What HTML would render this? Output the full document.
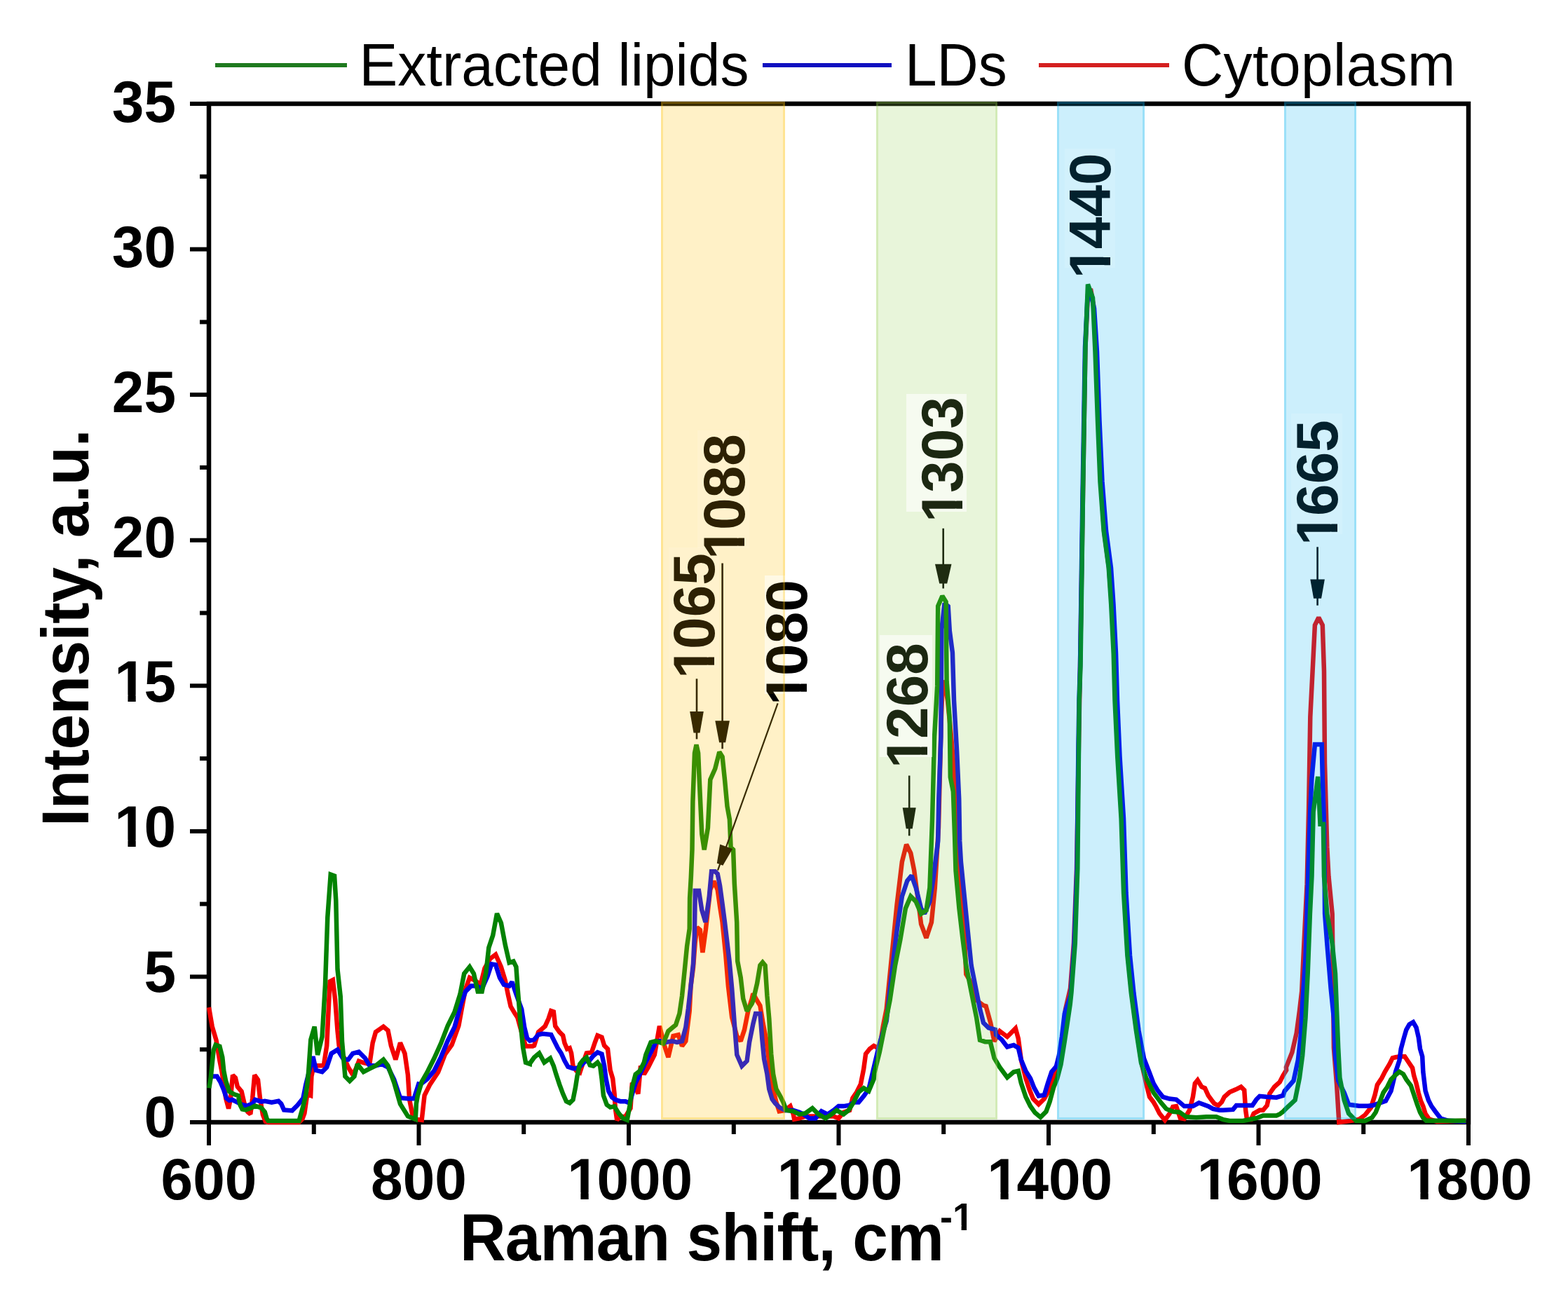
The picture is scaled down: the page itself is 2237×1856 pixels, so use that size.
<!DOCTYPE html><html><head><meta charset="utf-8"><title>Raman spectra: extracted lipids, LDs, cytoplasm</title><style>html,body{margin:0;padding:0;background:#fff;}svg{display:block;}text{font-family:"Liberation Sans",Arial,sans-serif;}</style></head><body>
<svg width="2237" height="1856" viewBox="0 0 2237 1856">
<defs><clipPath id="nf" clipPathUnits="userSpaceOnUse"><path clip-rule="evenodd" d="M-60,-200H1000V200H-60Z M7.17,-9.57H22.64V3H7.17Z M33.89,-9.57H48.02V3H33.89Z"/></clipPath><clipPath id="nf54" clipPathUnits="userSpaceOnUse"><path clip-rule="evenodd" d="M-60,-200H1000V200H-60Z M19.88,-6.71H30.59V3H19.88Z M38.00,-6.71H47.71V3H38.00Z"/></clipPath></defs>
<rect width="2237" height="1856" fill="#fff"/>
<g stroke="#000" stroke-width="6" fill="none">
<rect x="298.0" y="148.0" width="1797.0" height="1453.0" stroke-width="6.5"/>
<line x1="271" y1="1601.0" x2="298.0" y2="1601.0"/>
<line x1="271" y1="1393.4" x2="298.0" y2="1393.4"/>
<line x1="271" y1="1185.9" x2="298.0" y2="1185.9"/>
<line x1="271" y1="978.3" x2="298.0" y2="978.3"/>
<line x1="271" y1="770.7" x2="298.0" y2="770.7"/>
<line x1="271" y1="563.1" x2="298.0" y2="563.1"/>
<line x1="271" y1="355.6" x2="298.0" y2="355.6"/>
<line x1="271" y1="148.0" x2="298.0" y2="148.0"/>
<line x1="285" y1="1497.2" x2="298.0" y2="1497.2"/>
<line x1="285" y1="1289.6" x2="298.0" y2="1289.6"/>
<line x1="285" y1="1082.1" x2="298.0" y2="1082.1"/>
<line x1="285" y1="874.5" x2="298.0" y2="874.5"/>
<line x1="285" y1="666.9" x2="298.0" y2="666.9"/>
<line x1="285" y1="459.4" x2="298.0" y2="459.4"/>
<line x1="285" y1="251.8" x2="298.0" y2="251.8"/>
<line x1="298.0" y1="1601.0" x2="298.0" y2="1634"/>
<line x1="597.5" y1="1601.0" x2="597.5" y2="1634"/>
<line x1="897.0" y1="1601.0" x2="897.0" y2="1634"/>
<line x1="1196.5" y1="1601.0" x2="1196.5" y2="1634"/>
<line x1="1496.0" y1="1601.0" x2="1496.0" y2="1634"/>
<line x1="1795.5" y1="1601.0" x2="1795.5" y2="1634"/>
<line x1="2095.0" y1="1601.0" x2="2095.0" y2="1634"/>
<line x1="447.8" y1="1601.0" x2="447.8" y2="1618"/>
<line x1="747.2" y1="1601.0" x2="747.2" y2="1618"/>
<line x1="1046.8" y1="1601.0" x2="1046.8" y2="1618"/>
<line x1="1346.2" y1="1601.0" x2="1346.2" y2="1618"/>
<line x1="1645.8" y1="1601.0" x2="1645.8" y2="1618"/>
<line x1="1945.2" y1="1601.0" x2="1945.2" y2="1618"/>
</g>
<g font-weight="bold" font-size="82" fill="#000">
<text transform="translate(205.40,1622.0) scale(1,1.025)">0</text>
<text transform="translate(205.40,1415.1) scale(1,1.025)">5</text>
<text transform="translate(159.79,1208.3) scale(1,1.025)" clip-path="url(#nf)"><tspan dx="3.5">1</tspan><tspan dx="-3.5">0</tspan></text>
<text transform="translate(159.79,1001.4) scale(1,1.025)" clip-path="url(#nf)"><tspan dx="3.5">1</tspan><tspan dx="-3.5">5</tspan></text>
<text transform="translate(159.79,794.6) scale(1,1.025)">20</text>
<text transform="translate(159.79,587.7) scale(1,1.025)">25</text>
<text transform="translate(159.79,380.9) scale(1,1.025)">30</text>
<text transform="translate(159.79,174.0) scale(1,1.025)">35</text>
<text transform="translate(229.59,1711) scale(1,1.025)">600</text>
<text transform="translate(529.09,1711) scale(1,1.025)">800</text>
<text transform="translate(805.79,1711) scale(1,1.025)" clip-path="url(#nf)"><tspan dx="3.5">1</tspan><tspan dx="-3.5">000</tspan></text>
<text transform="translate(1105.29,1711) scale(1,1.025)" clip-path="url(#nf)"><tspan dx="3.5">1</tspan><tspan dx="-3.5">200</tspan></text>
<text transform="translate(1404.79,1711) scale(1,1.025)" clip-path="url(#nf)"><tspan dx="3.5">1</tspan><tspan dx="-3.5">400</tspan></text>
<text transform="translate(1704.29,1711) scale(1,1.025)" clip-path="url(#nf)"><tspan dx="3.5">1</tspan><tspan dx="-3.5">600</tspan></text>
<text transform="translate(2003.79,1711) scale(1,1.025)" clip-path="url(#nf)"><tspan dx="3.5">1</tspan><tspan dx="-3.5">800</tspan></text>
</g>
<text font-weight="bold" font-size="91" textLength="566.75" lengthAdjust="spacing" transform="translate(126,1179) rotate(-90) scale(1,1.04)">Intensity, a.u.</text>
<text font-weight="bold" font-size="91" textLength="690.9" lengthAdjust="spacing" transform="translate(656,1798) scale(1,1.04)">Raman shift, cm</text>
<text font-weight="bold" font-size="54" transform="translate(1341,1755) scale(1,1.04)" clip-path="url(#nf54)">-1</text>
<g stroke-width="6">
<line x1="307" y1="93" x2="495" y2="93" stroke="#1f7a1f"/>
<line x1="1088" y1="93" x2="1272" y2="93" stroke="#1010c0"/>
<line x1="1482" y1="93" x2="1668" y2="93" stroke="#d42020"/>
</g>
<g font-size="82" fill="#000">
<text transform="translate(512.5,122) scale(1,1.03)">Extracted lipids</text>
<text transform="translate(1291,122) scale(1,1.03)">LDs</text>
<text textLength="390.3" lengthAdjust="spacing" transform="translate(1686,122) scale(1,1.03)">Cytoplasm</text>
</g>
<path d="M298.0,1437.1 L302.7,1464.4 L308.5,1483.9 L313.4,1513.2 L316.3,1527.8 L319.3,1547.3 L322.2,1566.8 L326.1,1581.5 L329.0,1566.8 L332.0,1533.7 L335.9,1537.6 L338.8,1550.2 L344.6,1557.1 L348.5,1573.7 L353.4,1586.3 L357.3,1589.3 L360.2,1566.8 L363.2,1533.7 L368.0,1540.5 L371.0,1566.8 L374.9,1590.2 L378.8,1600.0 L382.7,1601.0 L426.6,1601.0 L431.5,1596.1 L434.4,1588.3 L438.3,1561.0 L443.2,1562.9 L444.4,1535.6 L447.6,1520.3 L453.1,1520.3 L461.8,1520.3 L466.2,1492.0 L470.6,1400.3 L474.9,1398.1 L478.2,1426.5 L481.5,1470.1 L483.7,1492.0 L490.2,1507.2 L496.8,1522.5 L503.3,1533.4 L507.7,1524.7 L512.0,1513.8 L518.6,1516.0 L527.3,1518.1 L531.7,1487.6 L536.0,1472.3 L547.0,1464.7 L553.5,1470.1 L557.9,1492.0 L564.4,1511.6 L571.0,1487.6 L577.5,1502.9 L581.9,1533.4 L584.1,1568.4 L588.4,1590.2 L592.8,1596.7 L601.7,1597.9 L605.6,1562.7 L613.4,1547.1 L625.1,1529.6 L634.9,1504.2 L644.6,1490.5 L654.4,1463.2 L658.3,1441.7 L664.2,1410.5 L670.0,1394.9 L677.8,1398.8 L685.6,1404.7 L691.5,1381.2 L699.3,1367.6 L707.1,1361.7 L714.9,1379.3 L720.8,1398.8 L724.7,1418.3 L728.6,1435.9 L734.4,1445.6 L738.3,1451.5 L744.2,1473.0 L750.0,1492.5 L760.0,1492.5 L762.1,1491.6 L768.1,1472.3 L777.7,1463.9 L782.6,1453.1 L786.2,1442.2 L789.8,1443.4 L792.2,1463.9 L798.2,1472.3 L803.1,1477.2 L805.5,1488.0 L809.1,1496.5 L812.7,1495.2 L815.1,1502.5 L817.5,1520.6 L822.3,1527.8 L827.2,1530.2 L832.0,1515.7 L836.8,1502.5 L844.0,1501.3 L848.9,1486.8 L852.5,1477.2 L858.5,1479.6 L862.1,1491.6 L867.0,1496.5 L870.6,1526.6 L874.2,1538.7 L876.6,1560.4 L877.8,1580.9 L880.2,1597.7 L885.0,1592.9 L892.3,1592.9 L899.5,1580.9 L901.9,1544.7 L906.7,1550.7 L910.4,1560.4 L914.0,1520.6 L918.8,1532.6 L924.9,1522.5 L933.8,1504.7 L940.9,1463.8 L948.1,1492.3 L953.4,1508.3 L960.5,1478.0 L967.7,1476.3 L973.0,1492.3 L978.3,1485.2 L983.7,1442.4 L985.5,1406.8 L989.0,1380.1 L991.7,1344.5 L994.4,1323.1 L998.8,1326.7 L1002.4,1358.8 L1006.8,1326.7 L1013.3,1269.1 L1018.5,1257.0 L1023.7,1269.1 L1027.1,1293.2 L1030.6,1315.6 L1035.3,1362.3 L1038.9,1406.8 L1044.2,1451.3 L1051.3,1478.0 L1056.7,1485.2 L1062.0,1469.1 L1067.3,1442.4 L1072.7,1424.6 L1074.4,1417.4 L1080.1,1427.5 L1084.4,1434.6 L1088.7,1460.5 L1093.0,1482.0 L1095.9,1503.5 L1098.7,1532.2 L1103.1,1553.7 L1107.4,1572.4 L1111.7,1585.3 L1120.3,1583.9 L1127.5,1578.1 L1131.8,1589.6 L1133.2,1596.8 L1140.4,1595.4 L1149.0,1592.5 L1160.5,1592.5 L1174.8,1592.5 L1189.2,1592.5 L1196.3,1595.4 L1203.5,1586.8 L1212.1,1583.9 L1216.4,1566.7 L1222.2,1558.0 L1227.9,1546.6 L1232.2,1525.0 L1235.1,1503.5 L1240.8,1496.3 L1246.6,1492.0 L1254.8,1496.0 L1259.8,1464.0 L1264.7,1439.3 L1272.1,1365.2 L1279.5,1291.1 L1286.9,1229.4 L1293.1,1204.7 L1299.3,1217.0 L1304.2,1241.7 L1309.1,1278.8 L1314.1,1318.3 L1321.5,1338.0 L1328.9,1315.8 L1333.8,1266.4 L1339.0,1180.0 L1341.0,1100.0 L1343.0,1020.0 L1345.0,972.0 L1348.0,975.0 L1352.0,1000.0 L1357.0,1050.0 L1362.0,1110.0 L1366.0,1170.0 L1368.4,1254.1 L1375.8,1328.1 L1378.3,1389.9 L1385.7,1402.2 L1393.1,1426.9 L1403.0,1434.3 L1406.6,1435.4 L1413.2,1459.2 L1418.5,1485.6 L1426.4,1471.1 L1437.0,1479.0 L1448.8,1467.1 L1452.8,1481.7 L1456.8,1512.0 L1463.4,1538.4 L1468.6,1554.3 L1473.9,1567.5 L1481.8,1575.4 L1489.8,1567.5 L1495.0,1558.2 L1500.3,1545.0 L1505.6,1531.8 L1512.2,1512.0 L1516.2,1479.0 L1520.0,1440.0 L1527.0,1410.0 L1532.0,1345.0 L1536.0,1240.0 L1539.0,1061.0 L1541.0,950.0 L1545.0,705.0 L1548.5,495.0 L1552.0,420.0 L1556.0,412.0 L1560.0,435.0 L1563.5,502.0 L1567.0,600.0 L1570.5,687.0 L1575.0,757.0 L1582.0,810.0 L1586.0,862.0 L1589.5,932.0 L1591.5,999.0 L1595.0,1079.0 L1600.5,1168.0 L1604.0,1274.0 L1609.0,1363.0 L1614.5,1417.0 L1621.5,1470.0 L1628.5,1516.0 L1635.0,1545.0 L1640.0,1564.8 L1645.7,1572.4 L1649.5,1579.0 L1654.3,1588.6 L1661.9,1598.1 L1668.6,1588.6 L1673.3,1579.0 L1678.1,1578.1 L1683.8,1595.2 L1689.5,1596.2 L1697.1,1583.8 L1701.9,1564.8 L1704.8,1545.7 L1708.6,1541.0 L1714.3,1550.5 L1719.0,1552.4 L1723.8,1562.9 L1728.6,1569.5 L1732.4,1574.3 L1738.1,1577.1 L1742.9,1572.4 L1746.7,1564.8 L1754.3,1558.1 L1762.9,1554.3 L1770.5,1550.5 L1775.2,1555.2 L1777.1,1583.8 L1779.0,1597.1 L1784.8,1597.1 L1788.6,1588.6 L1797.1,1583.8 L1801.9,1583.8 L1807.6,1577.1 L1811.4,1560.0 L1818.1,1550.5 L1825.7,1543.8 L1830.5,1534.3 L1835.2,1526.7 L1834.9,1522.6 L1843.4,1501.3 L1849.7,1473.7 L1854.0,1441.8 L1857.2,1414.2 L1860.4,1346.2 L1864.6,1261.2 L1867.1,1153.8 L1869.3,1022.8 L1872.6,957.3 L1875.9,891.8 L1881.3,880.9 L1886.8,891.8 L1889.0,957.3 L1890.0,1088.3 L1893.3,1208.4 L1895.5,1250.3 L1900.7,1303.7 L1902.9,1494.9 L1907.1,1548.1 L1910.3,1601.0 L1926.2,1599.0 L1939.0,1596.9 L1947.5,1590.5 L1956.0,1579.9 L1961.6,1561.8 L1964.9,1547.6 L1971.4,1537.8 L1975.8,1529.0 L1982.3,1518.1 L1986.7,1509.4 L1991.1,1508.3 L1997.6,1507.2 L2004.1,1507.2 L2008.5,1513.8 L2015.1,1523.6 L2017.2,1534.5 L2020.5,1545.4 L2023.8,1559.6 L2027.0,1570.5 L2030.3,1578.1 L2033.6,1589.0 L2039.0,1596.6 L2049.9,1599.9 L2091.4,1598.8" fill="none" stroke="#f20000" stroke-width="6.5" stroke-linejoin="miter" stroke-miterlimit="2" stroke-linecap="butt"/>
<path d="M298.0,1535.6 L309.5,1535.6 L314.4,1543.4 L319.3,1555.1 L323.2,1566.8 L327.1,1569.8 L331.0,1568.8 L336.8,1571.7 L344.6,1575.6 L352.4,1577.6 L360.2,1574.6 L364.1,1568.8 L372.9,1571.7 L377.8,1570.7 L387.6,1572.7 L397.3,1570.7 L401.2,1574.6 L405.1,1583.4 L416.8,1584.4 L424.6,1576.6 L432.4,1566.8 L436.3,1547.3 L440.2,1531.7 L446.5,1507.2 L450.9,1526.9 L459.6,1529.1 L466.2,1522.5 L472.7,1502.9 L481.5,1497.4 L490.2,1511.6 L496.8,1511.6 L503.3,1502.9 L512.0,1500.7 L520.8,1509.4 L527.3,1520.3 L536.0,1520.3 L544.8,1518.1 L553.5,1522.5 L562.2,1540.0 L571.0,1566.2 L581.9,1567.3 L590.6,1567.3 L597.2,1546.5 L599.8,1547.1 L609.5,1539.3 L619.3,1527.6 L629.0,1508.1 L638.8,1484.7 L648.5,1465.2 L658.3,1430.0 L664.2,1414.4 L672.0,1406.6 L679.8,1406.6 L687.6,1410.5 L695.4,1393.0 L701.2,1375.4 L707.1,1376.4 L713.0,1394.9 L718.8,1404.7 L726.6,1406.6 L730.5,1400.8 L736.4,1418.3 L744.2,1439.8 L748.1,1465.2 L752.0,1480.8 L755.9,1484.7 L762.1,1483.2 L768.1,1476.0 L774.1,1474.8 L786.2,1476.0 L791.0,1485.6 L795.8,1495.2 L800.6,1502.5 L805.5,1513.3 L810.3,1521.8 L817.5,1524.2 L822.3,1524.2 L828.4,1520.6 L834.4,1514.5 L841.6,1512.1 L846.5,1506.1 L852.5,1501.3 L858.5,1503.7 L862.1,1520.6 L864.5,1538.7 L868.2,1556.7 L873.0,1565.2 L877.8,1568.8 L885.0,1571.2 L892.3,1571.2 L898.3,1573.6 L903.1,1556.7 L906.7,1544.7 L912.8,1532.6 L918.8,1520.6 L926.7,1504.7 L935.6,1486.9 L940.9,1485.2 L949.8,1486.9 L958.8,1485.2 L965.9,1486.9 L973.0,1485.2 L978.3,1465.6 L981.9,1438.9 L985.5,1406.8 L989.0,1374.8 L990.8,1335.6 L991.8,1270.8 L997.0,1270.8 L1001.3,1298.4 L1006.5,1315.6 L1011.6,1281.1 L1015.1,1243.2 L1020.2,1243.2 L1023.7,1246.7 L1027.1,1263.9 L1030.6,1289.7 L1034.0,1315.6 L1040.6,1371.2 L1044.2,1410.4 L1047.8,1460.2 L1051.3,1504.7 L1058.4,1520.8 L1065.6,1513.6 L1069.1,1486.9 L1074.5,1460.2 L1078.0,1446.0 L1084.4,1446.1 L1087.3,1482.0 L1090.1,1510.7 L1094.4,1532.2 L1097.3,1553.7 L1101.6,1568.1 L1105.9,1573.8 L1111.7,1579.6 L1120.3,1583.9 L1131.8,1583.9 L1140.4,1586.8 L1146.1,1589.6 L1154.7,1595.4 L1163.3,1595.4 L1171.9,1585.3 L1180.6,1589.6 L1189.2,1583.9 L1196.3,1578.1 L1203.5,1578.1 L1212.1,1576.7 L1217.9,1572.4 L1225.0,1572.4 L1232.2,1563.8 L1239.4,1553.7 L1254.8,1488.6 L1264.7,1456.5 L1272.1,1389.9 L1279.5,1328.1 L1286.9,1278.8 L1294.3,1256.5 L1300.5,1249.1 L1306.7,1266.4 L1314.1,1296.0 L1319.0,1303.5 L1326.4,1286.2 L1331.4,1254.1 L1338.2,1199.9 L1339.3,1139.6 L1342.4,1050.7 L1343.4,897.9 L1347.5,860.7 L1352.7,864.8 L1354.8,899.9 L1358.9,930.9 L1361.0,999.1 L1365.1,1071.4 L1368.2,1139.6 L1369.2,1199.9 L1370.9,1229.4 L1375.8,1278.8 L1380.7,1328.1 L1385.7,1377.5 L1393.1,1414.6 L1398.0,1439.3 L1403.0,1459.0 L1410.4,1466.4 L1420.0,1468.9 L1421.1,1476.4 L1429.0,1483.0 L1437.0,1493.5 L1446.2,1490.9 L1452.8,1494.9 L1456.8,1512.0 L1463.4,1527.9 L1470.0,1538.4 L1475.2,1551.6 L1481.8,1563.5 L1489.8,1562.2 L1495.0,1545.0 L1500.3,1529.2 L1506.9,1521.3 L1510.9,1505.4 L1514.9,1479.0 L1518.8,1446.0 L1527.5,1420.0 L1532.5,1350.0 L1536.5,1240.0 L1538.5,1062.0 L1539.5,999.0 L1541.0,950.0 L1544.5,705.0 L1548.0,495.0 L1551.5,425.0 L1556.0,418.0 L1561.0,440.0 L1565.0,502.0 L1568.5,600.0 L1572.5,687.0 L1578.0,757.0 L1585.0,810.0 L1588.5,862.0 L1592.0,932.0 L1594.0,999.0 L1597.5,1079.0 L1603.0,1168.0 L1606.5,1274.0 L1612.0,1363.0 L1617.5,1417.0 L1624.5,1470.0 L1632.0,1510.0 L1639.0,1528.0 L1645.7,1545.7 L1651.4,1555.2 L1659.0,1564.8 L1668.6,1567.6 L1678.1,1568.6 L1682.9,1572.4 L1689.5,1578.1 L1701.9,1578.1 L1710.5,1573.3 L1723.8,1578.1 L1730.5,1581.9 L1740.0,1583.8 L1744.8,1583.8 L1759.0,1582.9 L1763.8,1577.1 L1773.3,1577.1 L1786.7,1577.1 L1792.4,1568.6 L1797.1,1563.8 L1806.7,1564.8 L1821.0,1565.7 L1830.5,1562.9 L1832.7,1556.5 L1845.5,1541.7 L1851.9,1511.9 L1856.1,1473.7 L1858.2,1431.2 L1862.5,1367.5 L1869.3,1153.8 L1871.5,1110.2 L1875.9,1062.1 L1880.2,1062.1 L1885.7,1062.1 L1886.8,1110.2 L1889.0,1175.7 L1890.1,1303.7 L1893.3,1346.2 L1898.6,1410.0 L1902.9,1452.4 L1905.0,1505.6 L1909.2,1541.7 L1917.7,1558.7 L1924.1,1575.7 L1939.0,1577.8 L1951.7,1577.8 L1958.4,1577.0 L1976.9,1570.5 L1984.5,1556.3 L1991.1,1529.0 L1996.5,1512.7 L1998.7,1496.3 L2003.1,1480.0 L2006.3,1469.1 L2010.7,1461.4 L2016.1,1458.2 L2020.5,1465.8 L2023.8,1480.0 L2026.0,1496.3 L2029.2,1507.2 L2030.3,1529.0 L2033.6,1556.3 L2037.9,1569.4 L2042.3,1578.1 L2047.8,1585.7 L2055.4,1595.6 L2066.3,1598.8 L2091.4,1599.9" fill="none" stroke="#0000e8" stroke-width="6.5" stroke-linejoin="miter" stroke-miterlimit="2" stroke-linecap="butt"/>
<path d="M298.3,1552.2 L300.7,1537.6 L304.6,1498.5 L307.6,1490.7 L313.4,1492.7 L317.3,1508.3 L319.3,1527.8 L322.2,1542.4 L327.1,1557.1 L333.9,1561.0 L339.8,1562.9 L342.7,1576.6 L345.6,1582.4 L350.5,1583.4 L358.3,1580.5 L364.1,1577.6 L372.9,1580.5 L377.8,1586.3 L380.7,1596.1 L382.7,1599.0 L387.6,1599.0 L426.6,1599.0 L428.5,1592.2 L432.4,1578.5 L436.3,1562.0 L438.3,1547.3 L440.0,1531.2 L443.3,1483.2 L448.7,1464.7 L453.1,1505.0 L459.6,1478.9 L464.0,1404.6 L467.3,1308.6 L471.7,1247.5 L477.1,1249.6 L479.3,1284.6 L481.5,1382.8 L485.8,1422.1 L488.0,1485.4 L492.4,1535.6 L498.9,1542.2 L505.5,1535.6 L509.9,1518.1 L518.6,1529.1 L527.3,1524.7 L536.0,1520.3 L547.0,1511.6 L553.5,1520.3 L562.2,1544.3 L571.0,1574.9 L581.9,1592.4 L592.8,1596.7 L593.9,1574.4 L595.9,1562.7 L601.7,1543.2 L609.5,1529.6 L619.3,1510.0 L629.0,1488.6 L638.8,1463.2 L648.5,1443.7 L656.4,1418.3 L662.2,1389.0 L670.0,1379.3 L675.9,1389.0 L681.7,1414.4 L687.6,1414.4 L693.4,1387.1 L697.3,1352.0 L703.2,1334.4 L709.0,1303.2 L714.9,1316.8 L720.8,1348.1 L726.6,1373.4 L732.5,1371.5 L736.4,1379.3 L738.3,1406.6 L742.2,1455.4 L746.1,1494.4 L750.0,1515.9 L755.9,1517.9 L756.0,1517.0 L762.1,1508.5 L769.3,1502.5 L776.5,1515.7 L785.0,1509.7 L789.8,1520.6 L793.4,1532.6 L798.2,1547.1 L803.1,1560.4 L807.9,1571.2 L812.7,1573.6 L817.5,1568.8 L821.1,1550.7 L823.5,1535.0 L827.2,1518.2 L832.0,1512.1 L836.8,1508.5 L841.6,1519.4 L846.5,1520.6 L852.5,1515.7 L856.1,1520.6 L858.5,1538.7 L860.9,1562.8 L865.7,1576.0 L870.6,1579.6 L876.6,1578.4 L882.6,1588.1 L888.7,1595.3 L894.7,1597.7 L898.3,1578.4 L901.9,1550.7 L906.7,1532.6 L912.8,1527.8 L918.8,1515.7 L921.4,1504.7 L928.5,1486.9 L935.6,1485.2 L946.3,1488.7 L953.4,1470.9 L964.1,1462.0 L969.4,1446.0 L973.0,1421.1 L976.6,1385.5 L980.1,1349.8 L983.7,1324.9 L984.1,1281.1 L985.8,1251.8 L987.5,1212.2 L988.4,1143.3 L991.0,1074.4 L993.5,1062.4 L996.1,1074.4 L997.8,1114.1 L1001.3,1189.8 L1004.7,1212.2 L1009.9,1181.2 L1013.3,1112.3 L1020.2,1096.8 L1026.3,1072.7 L1030.6,1079.6 L1034.0,1112.3 L1037.5,1150.2 L1040.9,1169.2 L1042.6,1208.8 L1046.1,1212.2 L1047.8,1260.5 L1051.2,1315.6 L1052.2,1371.2 L1056.7,1394.4 L1060.2,1424.6 L1065.6,1442.4 L1072.7,1431.7 L1074.4,1427.5 L1080.1,1403.1 L1084.4,1377.2 L1088.0,1372.9 L1091.6,1377.2 L1094.4,1420.3 L1097.3,1453.3 L1100.2,1503.5 L1103.1,1532.2 L1107.4,1553.7 L1113.1,1563.8 L1117.4,1572.4 L1121.7,1583.9 L1131.8,1585.3 L1140.4,1589.6 L1149.0,1588.2 L1159.0,1581.0 L1167.6,1589.6 L1177.7,1595.4 L1186.3,1589.6 L1193.5,1583.9 L1203.5,1589.6 L1210.7,1583.9 L1217.9,1572.4 L1225.0,1558.0 L1232.2,1552.3 L1239.4,1556.6 L1246.6,1539.4 L1247.4,1530.6 L1254.8,1501.0 L1262.2,1464.0 L1269.6,1426.9 L1277.0,1377.5 L1284.4,1340.5 L1291.9,1296.0 L1299.3,1278.8 L1306.7,1286.2 L1314.1,1303.5 L1321.5,1298.5 L1326.4,1266.4 L1330.0,1170.6 L1333.1,1050.7 L1337.2,978.4 L1338.2,864.8 L1344.4,850.3 L1349.6,858.6 L1350.6,972.2 L1354.8,1026.0 L1355.8,1108.6 L1359.9,1129.3 L1362.0,1191.2 L1363.5,1241.7 L1368.4,1296.0 L1373.3,1338.0 L1378.3,1377.5 L1383.2,1402.2 L1388.1,1426.9 L1393.1,1451.6 L1398.0,1483.7 L1405.4,1486.2 L1412.8,1486.2 L1418.5,1509.4 L1426.4,1522.6 L1437.0,1537.1 L1446.2,1529.2 L1452.8,1527.9 L1456.8,1545.0 L1463.4,1564.8 L1470.0,1578.0 L1476.6,1587.3 L1484.5,1593.9 L1492.4,1585.9 L1497.7,1571.4 L1503.0,1551.6 L1508.3,1538.4 L1513.5,1518.6 L1518.8,1485.6 L1522.8,1459.2 L1526.7,1432.8 L1528.4,1416.7 L1533.8,1345.6 L1537.3,1238.9 L1539.1,1061.1 L1539.7,999.5 L1541.5,949.8 L1545.0,704.9 L1548.5,495.0 L1552.0,405.7 L1559.0,425.0 L1562.5,502.0 L1566.0,599.9 L1569.5,687.4 L1574.7,757.4 L1581.7,809.9 L1585.2,862.4 L1588.7,932.3 L1590.5,999.5 L1594.2,1078.9 L1599.6,1167.8 L1603.1,1274.4 L1608.4,1363.3 L1613.8,1416.7 L1620.9,1470.0 L1628.0,1516.2 L1635.1,1537.6 L1645.8,1558.9 L1656.4,1573.1 L1663.8,1581.9 L1673.3,1585.7 L1682.9,1586.7 L1692.4,1593.3 L1706.7,1594.3 L1721.0,1593.3 L1735.2,1593.3 L1744.8,1597.1 L1754.3,1599.0 L1773.3,1599.0 L1792.4,1595.2 L1801.9,1591.4 L1811.4,1591.4 L1821.0,1591.4 L1825.7,1589.5 L1830.5,1585.7 L1834.3,1581.9 L1847.6,1569.3 L1854.0,1537.4 L1858.2,1505.6 L1862.5,1452.4 L1865.7,1388.7 L1868.9,1303.7 L1871.5,1250.3 L1873.7,1158.2 L1880.2,1108.0 L1883.5,1175.7 L1887.9,1175.7 L1889.0,1250.3 L1893.3,1303.7 L1900.7,1346.2 L1905.0,1388.7 L1907.1,1441.8 L1909.2,1494.9 L1911.4,1537.4 L1917.7,1569.3 L1924.1,1588.4 L1934.7,1599.0 L1947.5,1599.0 L1957.3,1594.5 L1962.7,1586.8 L1968.2,1572.7 L1973.6,1558.5 L1979.1,1550.8 L1984.5,1539.9 L1991.1,1533.4 L1996.5,1529.0 L2002.0,1532.3 L2006.3,1539.9 L2012.9,1548.7 L2017.2,1561.8 L2021.6,1574.8 L2026.0,1586.8 L2030.3,1594.5 L2034.7,1598.8 L2091.4,1598.8" fill="none" stroke="#038203" stroke-width="6.5" stroke-linejoin="miter" stroke-miterlimit="2" stroke-linecap="butt"/>
<line x1="994.0" y1="968.3" x2="994.0" y2="1054.4" stroke="#000" stroke-width="2.6"/><polygon points="984.2,1015.1 989.5,1045.4 998.5,1045.4 1003.8,1015.1" fill="#000"/>
<line x1="1030.6" y1="803.6" x2="1030.6" y2="1068.2" stroke="#000" stroke-width="2.6"/><polygon points="1020.3,1028.2 1026.1,1059.2 1035.1,1059.2 1040.9,1028.2" fill="#000"/>
<line x1="1345.7" y1="753.8" x2="1345.7" y2="839.5" stroke="#000" stroke-width="2.6"/><polygon points="1334.0,804.7 1340.2,832.5 1351.2,832.5 1357.5,804.7" fill="#000"/>
<line x1="1297.2" y1="1106.5" x2="1297.2" y2="1192.3" stroke="#000" stroke-width="2.6"/><polygon points="1287.7,1152.3 1292.7,1182.3 1301.7,1182.3 1306.7,1152.3" fill="#000"/>
<line x1="1879.6" y1="780.3" x2="1879.6" y2="863.7" stroke="#000" stroke-width="2.6"/><polygon points="1869.3,826.5 1874.1,853.7 1885.1,853.7 1889.9,826.5" fill="#000"/>
<line x1="1109.6" y1="1003.4" x2="1024.0" y2="1241.6" stroke="#000" stroke-width="2.2"/><polygon points="1027.2,1204.5 1022.8,1231.6 1031.3,1234.7 1045.1,1210.9" fill="#000"/>
<rect x="943" y="145" width="177" height="1452" fill="rgba(255,192,0,0.22)"/>
<rect x="1250" y="145" width="173" height="1452" fill="rgba(146,208,80,0.21)"/>
<rect x="1508" y="145" width="125" height="1452" fill="rgba(0,176,240,0.2)"/>
<rect x="1832" y="145" width="103" height="1452" fill="rgba(0,176,240,0.2)"/>
<rect x="954" y="781" width="72" height="172" fill="#fff" fill-opacity="0.12"/>
<rect x="995" y="614" width="74" height="168" fill="#fff" fill-opacity="0.12"/>
<rect x="1255" y="906" width="75" height="174" fill="#fff" fill-opacity="0.6"/>
<rect x="1293" y="562" width="86" height="168" fill="#fff" fill-opacity="0.6"/>
<rect x="1519" y="212" width="72" height="170" fill="#fff" fill-opacity="0.12"/>
<rect x="1842" y="590" width="73" height="172" fill="#fff" fill-opacity="0.12"/>
<g font-weight="bold" font-size="82">
<text fill="#2d2103" transform="translate(1018.5,971.5) rotate(-90) scale(1,1.025)" clip-path="url(#nf)"><tspan dx="3.5">1</tspan><tspan dx="-3.5">065</tspan></text>
<text fill="#2d2103" transform="translate(1061.5,801.5) rotate(-90) scale(1,1.025)" clip-path="url(#nf)"><tspan dx="3.5">1</tspan><tspan dx="-3.5">088</tspan></text>
<text fill="#1c2812" transform="translate(1322.5,1099.5) rotate(-90) scale(1,1.025)" clip-path="url(#nf)"><tspan dx="3.5">1</tspan><tspan dx="-3.5">268</tspan></text>
<text fill="#1c2812" transform="translate(1372.5,748.5) rotate(-90) scale(1,1.025)" clip-path="url(#nf)"><tspan dx="3.5">1</tspan><tspan dx="-3.5">303</tspan></text>
<text fill="#03212d" transform="translate(1584,400.8) rotate(-90) scale(1,1.025)" clip-path="url(#nf)"><tspan dx="3.5">1</tspan><tspan dx="-3.5">440</tspan></text>
<text fill="#03212d" transform="translate(1907.5,781.5) rotate(-90) scale(1,1.025)" clip-path="url(#nf)"><tspan dx="3.5">1</tspan><tspan dx="-3.5">665</tspan></text>
</g>
<rect x="1091" y="821" width="70" height="169" fill="#fff"/>
<text font-weight="bold" font-size="82" fill="#000" transform="translate(1150.5,1009.5) rotate(-90) scale(1,1.025)" clip-path="url(#nf)"><tspan dx="3.5">1</tspan><tspan dx="-3.5">080</tspan></text>
<rect x="1091" y="821" width="29" height="169" fill="rgba(255,192,0,0.1)"/>
<rect x="944.5" y="146.5" width="174" height="1449" fill="none" stroke="rgba(255,192,0,0.26)" stroke-width="3"/>
<rect x="1251.5" y="146.5" width="170" height="1449" fill="none" stroke="rgba(146,208,80,0.25)" stroke-width="3"/>
<rect x="1509.5" y="146.5" width="122" height="1449" fill="none" stroke="rgba(0,176,240,0.24000000000000002)" stroke-width="3"/>
<rect x="1833.5" y="146.5" width="100" height="1449" fill="none" stroke="rgba(0,176,240,0.24000000000000002)" stroke-width="3"/>
</svg></body></html>
